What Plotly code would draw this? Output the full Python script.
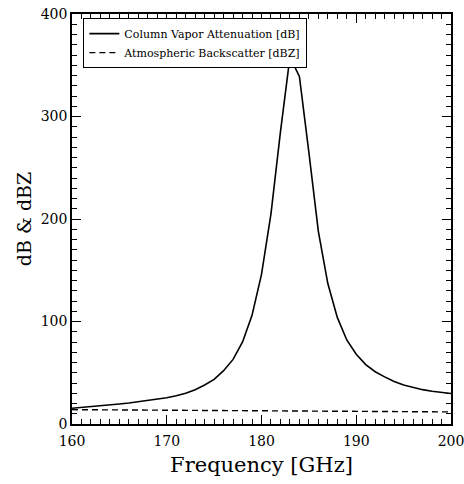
import plotly.graph_objects as go

freq = list(range(160, 201))
attenuation = [15.3, 16.0, 16.8, 17.6, 18.5, 19.5, 20.5, 21.7, 23.0, 24.2,
               25.6, 27.5, 30.0, 33.5, 38.0, 43.5, 52.0, 63.0, 80.0, 106.0,
               146.0, 205.0, 285.0, 358.0, 339.0, 265.0, 188.0, 137.0, 104.0, 82.0,
               68.0, 58.0, 51.0, 46.0, 41.5, 38.0, 35.5, 33.5, 32.0, 30.8, 29.8]
backscatter_freq = [160, 165, 170, 175, 180, 185, 190, 195, 200]
backscatter = [14.0, 13.7, 13.4, 13.1, 12.8, 12.5, 12.2, 12.0, 11.8]

font_family = "DejaVu Serif"

fig = go.Figure()
fig.add_trace(go.Scatter(x=freq, y=attenuation, mode="lines",
                         name="Column Vapor Attenuation [dB]",
                         line=dict(color="black", width=1.6)))
fig.add_trace(go.Scatter(x=backscatter_freq, y=backscatter, mode="lines",
                         name="Atmospheric Backscatter [dBZ]",
                         line=dict(color="black", width=1.4, dash="6px,4px")))

axis_common = dict(showgrid=False, zeroline=False, showline=True, linecolor="black",
                   linewidth=1.5, mirror="ticks", ticks="inside", ticklen=9,
                   tickcolor="black", tickwidth=1, automargin=False,
                   ticklabeloverflow="allow",
                   tickfont=dict(family=font_family, size=14, color="black"))

fig.update_xaxes(range=[160, 200], dtick=10, tick0=160, ticklabelstandoff=3,
                 minor=dict(ticks="inside", dtick=1, ticklen=5, tickcolor="black"),
                 title=dict(text="Frequency [GHz]", font=dict(family=font_family, size=21, color="black"),
                            standoff=10),
                 **axis_common)
fig.update_yaxes(range=[0, 400], dtick=100, tick0=0,
                 minor=dict(ticks="inside", dtick=10, ticklen=5, tickcolor="black"),
                 title=dict(text="dB & dBZ", font=dict(family=font_family, size=19, color="black"),
                            standoff=4),
                 **axis_common)

fig.update_layout(
    width=464, height=484,
    margin=dict(l=72, r=13, t=14, b=60),
    paper_bgcolor="white", plot_bgcolor="white",
    showlegend=True,
    legend=dict(x=0.03, y=0.99, xanchor="left", yanchor="top",
                bordercolor="black", borderwidth=1, bgcolor="white",
                font=dict(family=font_family, size=11, color="black"),
                tracegroupgap=0, itemwidth=30),
)

fig.write_html("out.html")
